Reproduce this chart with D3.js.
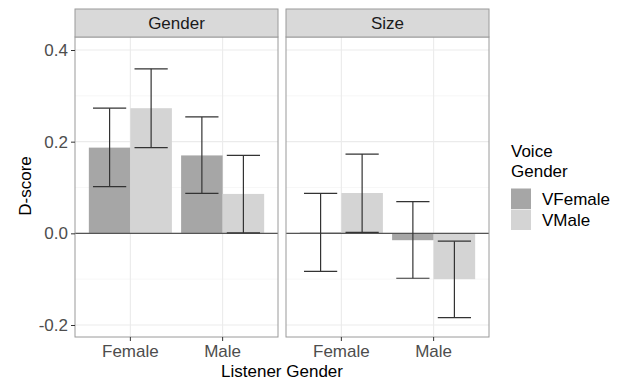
<!DOCTYPE html>
<html>
<head>
<meta charset="utf-8">
<script src="https://cdn.jsdelivr.net/npm/d3@7"></script>
<style>
  body { margin: 0; background: #fff; }
  text { font-family: "Liberation Sans", Arial, sans-serif; }
</style>
</head>
<body>
<script>
// facets, categories and series
const facets = ["Gender", "Size"];
const listener = ["Female", "Male"];
const voices = ["VFemale", "VMale"];
const yTicks = [-0.2, 0.0, 0.2, 0.4];
const yMinor = [-0.1, 0.1, 0.3];

// mean D-score per facet, listener, voice  (rows: facet, cols: listener x voice)
const means = [
  [0.187, 0.273, 0.170, 0.086],
  [0.002, 0.088, -0.015, -0.100]
];
const lower = [
  [0.102, 0.187, 0.087, 0.001],
  [-0.083, 0.002, -0.098, -0.184]
];
const upper = [
  [0.273, 0.359, 0.254, 0.170],
  [0.087, 0.173, 0.069, -0.017]
];

const fills = { VFemale: "#a6a6a6", VMale: "#d4d4d4" };

const W = 624, H = 381;
const panelX = [75, 286], panelW = 203;
const stripTop = 9, stripH = 28, panelTop = 37, panelBottom = 337;

const svg = d3.select("body").append("svg")
  .attr("width", W).attr("height", H);

const y = d3.scaleLinear().domain([-0.2, 0.4]).range([325, 50]);

// discrete x with ggplot style expansion (positions 1..n, expanded by 0.6)
const xi = d3.scaleLinear().domain([0.4, listener.length + 0.6]).range([0, panelW]);
const x = d => xi(listener.indexOf(d) + 1);
const dodge = d3.scaleBand().domain(voices).range([-0.45, 0.45]);
const unit = xi(1) - xi(0);

facets.forEach(function(f, fi) {
  const g = svg.append("g").attr("transform", "translate(" + panelX[fi] + ",0)");

  // panel background + grid
  g.append("rect").attr("x", 0).attr("y", panelTop).attr("width", panelW)
    .attr("height", panelBottom - panelTop).attr("fill", "#fff");

  g.selectAll(".minor").data(yMinor).enter().append("line")
    .attr("x1", 0).attr("x2", panelW)
    .attr("y1", d => y(d)).attr("y2", d => y(d))
    .attr("stroke", "#f2f2f2").attr("stroke-width", 0.6);
  g.selectAll(".major").data(yTicks).enter().append("line")
    .attr("x1", 0).attr("x2", panelW)
    .attr("y1", d => y(d)).attr("y2", d => y(d))
    .attr("stroke", "#ebebeb").attr("stroke-width", 1.1);
  g.selectAll(".vmajor").data(listener).enter().append("line")
    .attr("x1", d => x(d)).attr("x2", d => x(d))
    .attr("y1", panelTop).attr("y2", panelBottom)
    .attr("stroke", "#ebebeb").attr("stroke-width", 1.1);

  const rows = [];
  listener.forEach(function(l, li) {
    voices.forEach(function(v, vi) {
      const k = li * 2 + vi;
      rows.push({ l: l, v: v, m: means[fi][k], lo: lower[fi][k], hi: upper[fi][k] });
    });
  });

  // bars
  g.selectAll(".bar").data(rows).enter().append("rect")
    .attr("x", d => x(d.l) + dodge(d.v) * unit)
    .attr("width", dodge.bandwidth() * unit)
    .attr("y", d => Math.min(y(d.m), y(0)))
    .attr("height", d => Math.abs(y(d.m) - y(0)))
    .attr("fill", d => fills[d.v]);

  // zero line
  g.append("line").attr("x1", 0).attr("x2", panelW)
    .attr("y1", y(0)).attr("y2", y(0))
    .attr("stroke", "#555").attr("stroke-width", 1.1);

  // error bars
  const capHalf = 0.18 * unit;
  const eb = g.selectAll(".err").data(rows).enter().append("g")
    .attr("stroke", "#333").attr("stroke-width", 1.2);
  const cx = d => x(d.l) + (dodge(d.v) + dodge.bandwidth() / 2) * unit;
  eb.append("line").attr("x1", cx).attr("x2", cx)
    .attr("y1", d => y(d.lo)).attr("y2", d => y(d.hi));
  eb.append("line").attr("x1", d => cx(d) - capHalf).attr("x2", d => cx(d) + capHalf)
    .attr("y1", d => y(d.lo)).attr("y2", d => y(d.lo));
  eb.append("line").attr("x1", d => cx(d) - capHalf).attr("x2", d => cx(d) + capHalf)
    .attr("y1", d => y(d.hi)).attr("y2", d => y(d.hi));

  // panel border
  g.append("rect").attr("x", 0).attr("y", panelTop).attr("width", panelW)
    .attr("height", panelBottom - panelTop).attr("fill", "none")
    .attr("stroke", "#9a9a9a").attr("stroke-width", 1);

  // strip
  g.append("rect").attr("x", 0).attr("y", stripTop).attr("width", panelW)
    .attr("height", stripH).attr("fill", "#d9d9d9")
    .attr("stroke", "#9a9a9a").attr("stroke-width", 1);
  g.append("text").attr("x", panelW / 2).attr("y", stripTop + stripH / 2 + 6)
    .attr("text-anchor", "middle").attr("font-size", 17).attr("fill", "#1a1a1a")
    .text(f);

  // x axis
  const xa = g.append("g").attr("transform", "translate(0," + panelBottom + ")");
  listener.forEach(function(l) {
    xa.append("line").attr("x1", x(l)).attr("x2", x(l)).attr("y1", 0).attr("y2", 4)
      .attr("stroke", "#333");
    xa.append("text").attr("x", x(l)).attr("y", 20).attr("text-anchor", "middle")
      .attr("font-size", 17).attr("fill", "#4d4d4d").text(l);
  });
});

// y axis
const ya = svg.append("g").attr("transform", "translate(" + panelX[0] + ",0)")
  .call(d3.axisLeft(y).tickValues(yTicks).tickSize(4).tickPadding(3)
    .tickFormat(d3.format(".1f")));
ya.select(".domain").remove();
ya.selectAll("line").attr("stroke", "#333");
ya.selectAll("text").attr("font-size", 17).attr("fill", "#4d4d4d")
  .attr("font-family", "Liberation Sans, Arial, sans-serif")
  .text(d => d3.format(".1f")(d).replace("−", "-"));

// axis titles
svg.append("text").attr("x", (panelX[0] + panelX[1] + panelW) / 2).attr("y", 377)
  .attr("text-anchor", "middle").attr("font-size", 17).attr("fill", "#000")
  .text("Listener Gender");
svg.append("text").attr("transform", "translate(31,186) rotate(-90)")
  .attr("text-anchor", "middle").attr("font-size", 17).attr("fill", "#000")
  .text("D-score");

// legend
const lg = svg.append("g").attr("transform", "translate(511,0)");
lg.append("text").attr("x", 0).attr("y", 157).attr("font-size", 17).text("Voice");
lg.append("text").attr("x", 0).attr("y", 177).attr("font-size", 17).text("Gender");
voices.forEach(function(v, i) {
  lg.append("rect").attr("x", 0).attr("y", 188.5 + i * 21).attr("width", 20)
    .attr("height", 20.5).attr("fill", fills[v]);
  lg.append("text").attr("x", 31).attr("y", 205 + i * 21).attr("font-size", 17).text(v);
});
</script>
</body>
</html>
